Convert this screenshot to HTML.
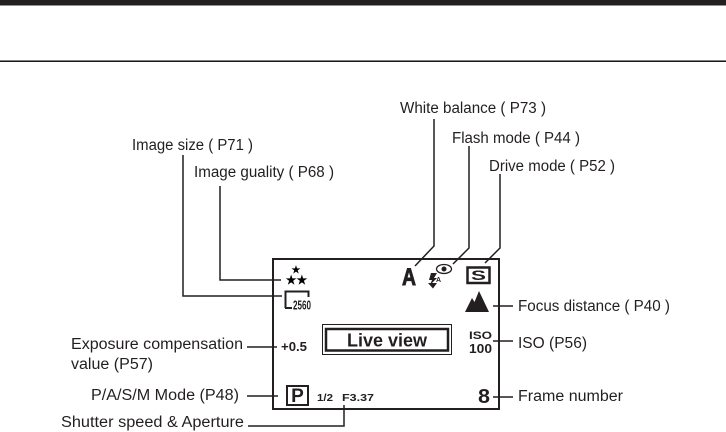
<!DOCTYPE html>
<html><head><meta charset="utf-8"><style>
html,body{margin:0;padding:0;background:#fff;width:726px;height:432px;overflow:hidden}
svg{display:block}
text{font-family:"Liberation Sans",sans-serif;fill:#231f20}
.l{font-size:15.5px}
.b{font-weight:bold}
</style></head><body>
<svg width="726" height="432" viewBox="0 0 726 432" xmlns="http://www.w3.org/2000/svg">
<rect x="0" y="0" width="726" height="5.5" fill="#231f20"/>
<rect x="0" y="60.5" width="726" height="1.4" fill="#000"/>

<rect x="273" y="259" width="226" height="150" fill="none" stroke="#231f20" stroke-width="2"/>

<g fill="none" stroke="#231f20" stroke-width="1.5">
<path d="M183 155V296H282"/>
<path d="M220 186V280H281"/>
<path d="M434 119V246L415 266"/>
<path d="M469 146V248L453 264"/>
<path d="M500 174V248L485 263"/>
<path d="M493 306H513"/>
<path d="M493 341H513"/>
<path d="M493 397H513"/>
<path d="M247 347H277"/>
<path d="M247 396H278"/>
<path d="M248 426H344V405"/>
</g>

<text class="l" x="132" y="150" textLength="121" lengthAdjust="spacingAndGlyphs">Image size ( P71 )</text>
<text class="l" x="194" y="177" textLength="140" lengthAdjust="spacingAndGlyphs">Image guality ( P68 )</text>
<text class="l" x="400" y="113" textLength="146" lengthAdjust="spacingAndGlyphs">White balance ( P73 )</text>
<text class="l" x="452" y="143" textLength="128" lengthAdjust="spacingAndGlyphs">Flash mode ( P44 )</text>
<text class="l" x="489" y="171" textLength="126" lengthAdjust="spacingAndGlyphs">Drive mode ( P52 )</text>
<text class="l" x="518" y="311" textLength="152" lengthAdjust="spacingAndGlyphs">Focus distance ( P40 )</text>
<text class="l" x="518" y="348" textLength="69" lengthAdjust="spacingAndGlyphs">ISO (P56)</text>
<text class="l" x="518" y="401" textLength="105" lengthAdjust="spacingAndGlyphs">Frame number</text>
<text class="l" x="71" y="349" textLength="172" lengthAdjust="spacingAndGlyphs">Exposure compensation</text>
<text class="l" x="71" y="369" textLength="82" lengthAdjust="spacingAndGlyphs">value (P57)</text>
<text class="l" x="91" y="400" textLength="148" lengthAdjust="spacingAndGlyphs">P/A/S/M Mode (P48)</text>
<text class="l" x="61" y="427" textLength="183" lengthAdjust="spacingAndGlyphs">Shutter speed &amp; Aperture</text>

<text x="296" y="273" font-size="10" text-anchor="middle" class="b" style="fill:#000">★</text>
<text x="296.500" y="284" font-size="12" text-anchor="middle" class="b" style="fill:#000">★★</text>

<path d="M285.500 308V291.500H308.500V297" fill="none" stroke="#231f20" stroke-width="2"/>
<path d="M285 308H292" fill="none" stroke="#231f20" stroke-width="2"/>
<text x="293" y="309.500" font-size="12.500" class="b" textLength="18" lengthAdjust="spacingAndGlyphs">2560</text>

<text x="402" y="285" font-size="24" class="b" textLength="14" lengthAdjust="spacingAndGlyphs" stroke="#231f20" stroke-width="0.900">A</text>

<ellipse cx="444" cy="269" rx="7.500" ry="4.500" fill="#fff" stroke="#231f20" stroke-width="1.300"/>
<circle cx="444" cy="269" r="2.500" fill="#231f20"/>
<path d="M431 273L429 280L432 280L430 285L437 278L434 278L437 273Z" fill="#231f20"/>
<path d="M428 283L433 288.500L437 283Z" fill="#231f20"/>
<text x="436" y="282" font-size="7" class="b">A</text>

<rect x="467.500" y="267.500" width="22" height="15.500" fill="none" stroke="#231f20" stroke-width="2.500"/>
<text x="478.500" y="280" font-size="14" class="b" text-anchor="middle" textLength="15" lengthAdjust="spacingAndGlyphs">S</text>

<path d="M465 312L472 298L474.500 302L479 291L489 312Z" fill="#231f20"/>

<rect x="322.500" y="324.500" width="129" height="30" fill="none" stroke="#231f20" stroke-width="1"/>
<rect x="326" y="329" width="122" height="21.500" fill="none" stroke="#231f20" stroke-width="2.500"/>
<text x="347" y="346.500" font-size="18.500" class="b" textLength="80" lengthAdjust="spacingAndGlyphs">Live view</text>

<text x="281" y="351" font-size="12.500" class="b" textLength="26" lengthAdjust="spacingAndGlyphs">+0.5</text>
<text x="469" y="339" font-size="11" class="b" textLength="23" lengthAdjust="spacingAndGlyphs">ISO</text>
<text x="469" y="353" font-size="12.500" class="b" textLength="23" lengthAdjust="spacingAndGlyphs">100</text>

<rect x="287" y="386" width="21" height="19" fill="none" stroke="#231f20" stroke-width="2"/>
<text x="297.500" y="402" font-size="19" class="b" text-anchor="middle">P</text>
<text x="317" y="401" font-size="10.500" class="b" textLength="16" lengthAdjust="spacingAndGlyphs">1/2</text>
<text x="342" y="401" font-size="10.500" class="b" textLength="32" lengthAdjust="spacingAndGlyphs">F3.37</text>
<text x="478" y="403" font-size="20" class="b" textLength="12" lengthAdjust="spacingAndGlyphs">8</text>
</svg>
</body></html>
